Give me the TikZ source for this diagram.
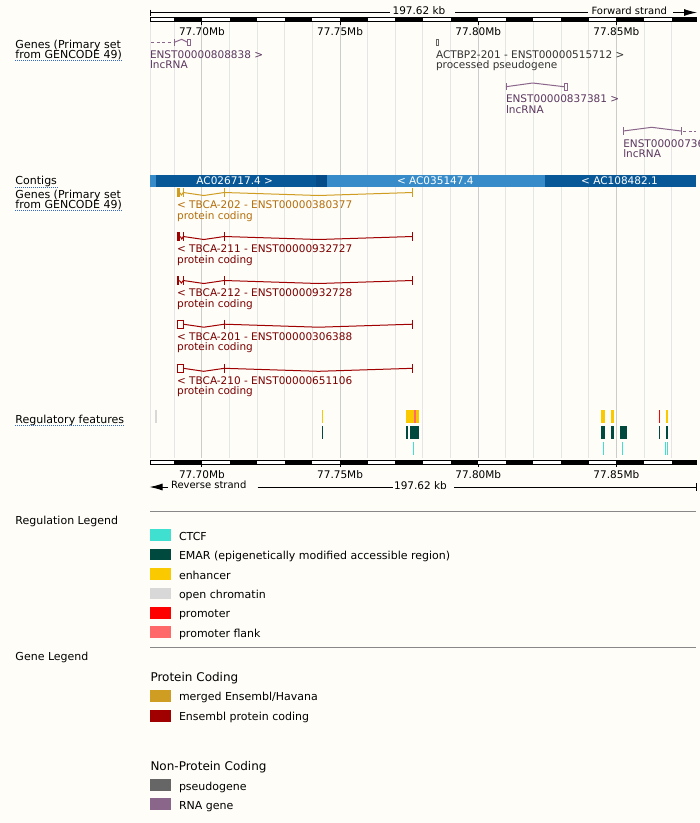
\documentclass[tikz,border=0pt]{standalone}
\usepackage{fontspec}
\setmainfont{DejaVu Sans}
\usetikzlibrary{arrows.meta}
\definecolor{bg}{RGB}{254,253,248}
\definecolor{grid}{RGB}{229,229,229}
\definecolor{gridmaj}{RGB}{204,204,204}
\definecolor{ctcf}{RGB}{64,224,208}
\definecolor{emar}{RGB}{0,73,62}
\definecolor{enh}{RGB}{250,201,0}
\definecolor{openc}{RGB}{216,216,216}
\definecolor{prom}{RGB}{255,0,0}
\definecolor{pflank}{RGB}{255,105,105}
\definecolor{merged}{RGB}{207,157,34}
\definecolor{mergedtxt}{RGB}{180,110,10}
\definecolor{epc}{RGB}{160,0,0}
\definecolor{epctxt}{RGB}{122,0,0}
\definecolor{pseudo}{RGB}{102,102,102}
\definecolor{pseudotxt}{RGB}{51,51,51}
\definecolor{rnag}{RGB}{139,102,139}
\definecolor{rnatxt}{RGB}{92,56,96}
\definecolor{ctgdark}{RGB}{8,88,152}
\definecolor{ctgdarker}{RGB}{5,76,136}
\definecolor{ctglight}{RGB}{54,139,200}
\definecolor{ulink}{RGB}{51,102,204}
\definecolor{legline}{RGB}{136,136,136}
\newcommand{\txbody}[2]{%
  \draw[#2] (183.3,{#1-4.3}) -- (183.3,{#1+4.3});
  \draw[#2] (224.3,{#1-4.3}) -- (224.3,{#1+4.3});
  \draw[#2] (412.7,{#1-4.3}) -- (412.7,{#1+4.3});
  \draw[#2] (183.3,{#1}) -- (203.8,{#1+3}) -- (224.3,{#1});
  \draw[#2] (224.3,{#1}) -- (318.5,{#1+3}) -- (412.7,{#1});
}
\newcommand{\txcoding}[3]{%
  \fill[#2] (177.3,{#1-4.3}) rectangle (#3,{#1+4.3});
  \draw[#2] (#3,{#1}) -- ({(#3+183.3)/2},{#1+2.5}) -- (183.3,{#1});
}
\newcommand{\txutr}[2]{%
  \draw[#2] (177.8,{#1-4.2}) rectangle (183.3,{#1+4.2});
}
\begin{document}
\begin{tikzpicture}[x=1pt,y=-1pt,line width=1pt,
  lbl/.style={anchor=base west,inner sep=0pt,font=\fontsize{11}{13}\selectfont},
  glbl/.style={anchor=base west,inner sep=0pt,font=\fontsize{10.5}{12}\selectfont},
  rlbl/.style={anchor=base,inner sep=0pt,font=\fontsize{10.5}{12}\selectfont},
  slbl/.style={anchor=base west,inner sep=0pt,font=\fontsize{10}{12}\selectfont},
  clbl/.style={anchor=base,inner sep=0pt,text=white,font=\fontsize{10.5}{12}\selectfont},
  leghead/.style={anchor=base west,inner sep=0pt,font=\fontsize{12}{14}\selectfont},
  uline/.style={ulink,line width=1pt,dash pattern=on 1pt off 1pt},
  gline/.style={grid,line width=1pt},
  gmaj/.style={gridmaj,line width=1pt},
  flank/.style={dash pattern=on 3pt off 2.5pt}]
\useasboundingbox (0,0) rectangle (700,823);
\fill[bg] (0,0) rectangle (700,823);

% ---------- grid lines ----------
\draw[gline] (150,21.5) -- (150,458);
\foreach \k in {0,...,18}{\draw[gline] ({174.3+27.63*\k},21.5) -- ({174.3+27.63*\k},458);}
\foreach \mx in {201.93,340.08,478.23,616.38}{\draw[gmaj] (\mx,21.5) -- (\mx,458);}

% ---------- top ruler ----------
\node[rlbl] (kbtop) at (419,14) {197.62 kb};
\node[slbl] (fwd) at (591,14) {Forward strand};
\draw (150,9.5) -- (150,15.5);
\draw (150,12.5) -- (390,12.5);
\draw (455,12.5) -- (588,12.5);
\draw[-{Latex[length=13pt,width=7pt]}] (673,12.5) -- (697,12.5);
\fill[white] (150,17.5) rectangle (696,21.5);
\foreach \j in {1,3,...,19}{\fill ({174.3+27.63*(\j-1)},17.5) rectangle ({min(174.3+27.63*\j,696)},21.5);}
\draw (150,17.5) rectangle (696,21.5);
\foreach \mx in {201.93,340.08,478.23,616.38}{\draw (\mx,21.5) -- (\mx,25);}
\node[rlbl] (t70) at (201.93,35) {77.70Mb};
\node[rlbl] (t75) at (340.08,35) {77.75Mb};
\node[rlbl] (t80) at (478.23,35) {77.80Mb};
\node[rlbl] (t85) at (616.38,35) {77.85Mb};

% ---------- left labels ----------
\node[lbl] (g1a) at (15,48.5) {Genes (Primary set};
\node[lbl] (g1b) at (15,58) {from GENCODE 49)};
\draw[uline] ([yshift=-2.5pt]g1b.base west) -- ([yshift=-2.5pt]g1b.base east);
\node[lbl] (ctg) at (15,184.5) {Contigs};
\draw[uline] ([yshift=-2.5pt]ctg.base west) -- ([yshift=-2.5pt]ctg.base east);
\node[lbl] (g2a) at (15,198.5) {Genes (Primary set};
\node[lbl] (g2b) at (15,208) {from GENCODE 49)};
\draw[uline] ([yshift=-2.5pt]g2b.base west) -- ([yshift=-2.5pt]g2b.base east);
\node[lbl] (regf) at (15,423) {Regulatory features};
\draw[uline] ([yshift=-2.5pt]regf.base west) -- ([yshift=-2.5pt]regf.base east);

% ---------- forward strand genes ----------
\draw[rnag,flank] (151,42.3) -- (173,42.3);
\draw[rnag] (174.3,39) -- (174.3,45.6);
\draw[rnag] (174.3,42.3) -- (181.7,39.3) -- (187.7,42.3);
\draw[rnag] (187.7,39) rectangle (190.3,45.6);
\node[glbl,text=rnatxt] (l1a) at (149.5,58.3) {ENST00000808838 >};
\node[glbl,text=rnatxt] (l1b) at (149.5,68.8) {lncRNA};

\draw[pseudo] (436,39) rectangle (438.7,45.6);
\node[glbl,text=pseudotxt] (p1a) at (435.5,58.3) {ACTBP2-201 - ENST00000515712 >};
\node[glbl,text=pseudotxt] (p1b) at (435.5,68.8) {processed pseudogene};

\draw[rnag] (506,83) -- (506,90.4);
\draw[rnag] (506,86.7) -- (532.7,83) -- (564,86.7);
\draw[rnag] (564,83) rectangle (567.3,90.4);
\node[glbl,text=rnatxt] (l2a) at (505.5,102.7) {ENST00000837381 >};
\node[glbl,text=rnatxt] (l2b) at (505.5,113.2) {lncRNA};

\draw[rnag] (623.3,127.3) -- (623.3,134.7);
\draw[rnag] (623.3,131) -- (651.7,127.3) -- (681,131);
\draw[rnag] (681,127.3) -- (681,134.7);
\draw[rnag,flank] (683,131) -- (696,131);
\node[glbl,text=rnatxt] (l3a) at (622.8,147) {ENST00000736};
\node[glbl,text=rnatxt] (l3b) at (622.8,157.5) {lncRNA};

% ---------- contigs ----------
\fill[ctglight] (150,175) rectangle (156,187);
\fill[ctgdark] (156,175) rectangle (315.7,187);
\fill[ctgdarker] (315.7,175) rectangle (326.7,187);
\fill[ctglight] (326.7,175) rectangle (545,187);
\fill[ctgdark] (545,175) rectangle (696,187);
\node[clbl] (c1) at (234.7,184.8) {AC026717.4 >};
\node[clbl] (c2) at (435.3,184.8) {< AC035147.4};
\node[clbl] (c3) at (619.5,184.8) {< AC108482.1};

% ---------- reverse strand transcripts ----------
\txcoding{192.5}{merged}{179.6}
\txbody{192.5}{merged}
\node[glbl,text=mergedtxt] (t202a) at (176.6,208.5) {< TBCA-202 - ENST00000380377};
\node[glbl,text=mergedtxt] (t202b) at (176.6,219) {protein coding};

\txcoding{236.5}{epc}{180.3}
\txbody{236.5}{epc}
\node[glbl,text=epctxt] (t211a) at (176.6,252.5) {< TBCA-211 - ENST00000932727};
\node[glbl,text=epctxt] (t211b) at (176.6,263) {protein coding};

\txcoding{280.5}{epc}{179.4}
\txbody{280.5}{epc}
\node[glbl,text=epctxt] (t212a) at (176.6,296.5) {< TBCA-212 - ENST00000932728};
\node[glbl,text=epctxt] (t212b) at (176.6,307) {protein coding};

\txutr{324.2}{epc}
\txbody{324.2}{epc}
\node[glbl,text=epctxt] (t201a) at (176.6,340.2) {< TBCA-201 - ENST00000306388};
\node[glbl,text=epctxt] (t201b) at (176.6,350.7) {protein coding};

\txutr{368.3}{epc}
\txbody{368.3}{epc}
\node[glbl,text=epctxt] (t210a) at (176.6,384.3) {< TBCA-210 - ENST00000651106};
\node[glbl,text=epctxt] (t210b) at (176.6,394.8) {protein coding};

% ---------- regulatory features ----------
\fill[openc] (155,410) rectangle (157.2,423);
\fill[enh] (321.8,410) rectangle (322.8,423);
\fill[enh] (405.8,410) rectangle (408.6,423);
\fill[enh] (409.2,410) rectangle (413.5,423);
\fill[pflank] (413.5,410) rectangle (416,423);
\fill[enh] (416,410) rectangle (418.5,423);
\fill[enh] (601.3,410) rectangle (605.2,423);
\fill[enh] (611.3,410) rectangle (614.2,423);
\fill[prom] (659.4,410) rectangle (660.4,423);
\fill[enh] (665.5,410) rectangle (667.6,423);

\fill[emar] (321.8,426) rectangle (322.8,439);
\fill[emar] (405.8,426) rectangle (408.2,439);
\fill[emar] (410,426) rectangle (418.5,439);
\fill[emar] (601.3,426) rectangle (605.2,439);
\fill[emar] (611.3,426) rectangle (614.2,439);
\fill[emar] (619.6,426) rectangle (627.4,439);
\fill[emar] (659.4,426) rectangle (660.4,439);
\fill[emar] (665.5,426) rectangle (667.6,439);

\fill[ctcf] (413.4,442) rectangle (414.4,455);
\fill[ctcf] (603.2,442) rectangle (604.2,455);
\fill[ctcf] (622.3,442) rectangle (623.3,455);
\fill[ctcf] (665.3,442) rectangle (666.3,455);
\fill[ctcf] (667.2,442) rectangle (668.2,455);

% ---------- bottom ruler ----------
\fill[white] (150,460) rectangle (696,464);
\foreach \j in {1,3,...,19}{\fill ({174.3+27.63*(\j-1)},460) rectangle ({min(174.3+27.63*\j,696)},464);}
\draw (150,460) rectangle (696,464);
\foreach \mx in {201.93,340.08,478.23,616.38}{\draw (\mx,464) -- (\mx,467);}
\node[rlbl] (b70) at (201.93,478) {77.70Mb};
\node[rlbl] (b75) at (340.08,478) {77.75Mb};
\node[rlbl] (b80) at (478.23,478) {77.80Mb};
\node[rlbl] (b85) at (616.38,478) {77.85Mb};
\draw[-{Latex[length=13pt,width=7pt]}] (168,487) -- (149.5,487);
\node[slbl] (rev) at (170.5,488.5) {Reverse strand};
\draw (257.7,487) -- (393,487);
\node[rlbl] (kbbot) at (420.5,489.5) {197.62 kb};
\draw (454,487) -- (696,487);
\draw (696,483) -- (696,491);

% ---------- regulation legend ----------
\draw[legline] (150,511) -- (696,511);
\node[lbl] (rlg) at (15,524) {Regulation Legend};
\fill[ctcf] (150,529.3) rectangle (171,541);
\node[lbl] (r1) at (178.5,540) {CTCF};
\fill[emar] (150,548.5) rectangle (171,560.2);
\node[lbl] (r2) at (178.5,559.3) {EMAR (epigenetically modified accessible region)};
\fill[enh] (150,568.3) rectangle (171,580);
\node[lbl] (r3) at (178.5,579) {enhancer};
\fill[openc] (150,587.5) rectangle (171,599.2);
\node[lbl] (r4) at (178.5,598.3) {open chromatin};
\fill[prom] (150,606.8) rectangle (171,618.5);
\node[lbl] (r5) at (178.5,617.6) {promoter};
\fill[pflank] (150,626.3) rectangle (171,638);
\node[lbl] (r6) at (178.5,637) {promoter flank};

% ---------- gene legend ----------
\draw[legline] (150,647.5) -- (696,647.5);
\node[lbl] (glg) at (15,660.7) {Gene Legend};
\node[leghead] (pch) at (150,681.5) {Protein Coding};
\fill[merged] (150,690) rectangle (171,701.7);
\node[lbl] (g1) at (178.5,700.7) {merged Ensembl/Havana};
\fill[epc] (150,710) rectangle (171,721.7);
\node[lbl] (g2) at (178.5,720.7) {Ensembl protein coding};
\node[leghead] (npch) at (150,770) {Non-Protein Coding};
\fill[pseudo] (150,779.3) rectangle (171,791);
\node[lbl] (g3) at (178.5,790) {pseudogene};
\fill[rnag] (150,798.3) rectangle (171,810);
\node[lbl] (g4) at (178.5,809) {RNA gene};
\end{tikzpicture}
\end{document}
